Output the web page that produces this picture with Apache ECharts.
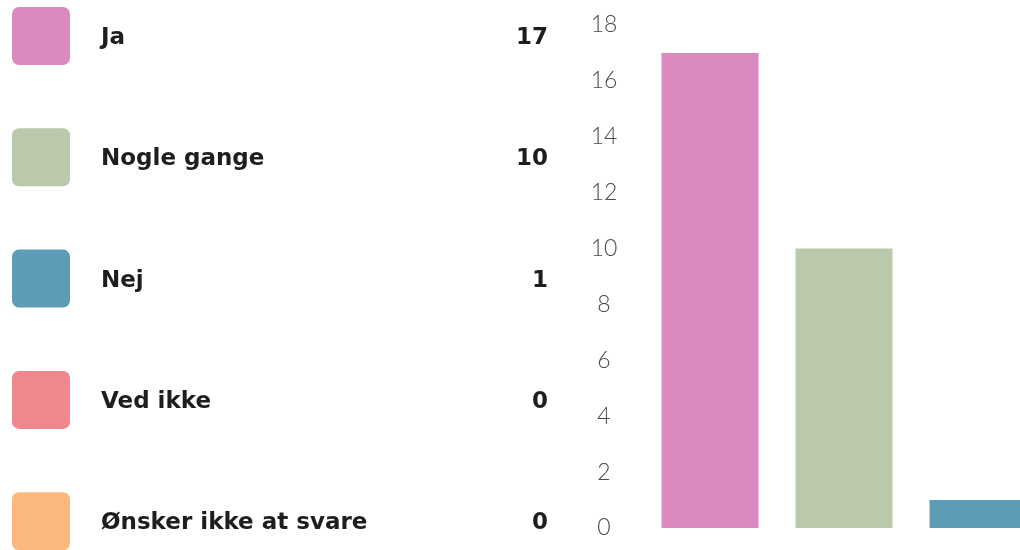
<!DOCTYPE html>
<html>
<head>
<meta charset="utf-8">
<script src="https://cdn.jsdelivr.net/npm/echarts@6/dist/echarts.min.js"></script>
<style>
html,body{margin:0;padding:0;background:#fff;}
#chart{width:1020px;height:550px;}
</style>
</head>
<body>
<div id="chart"></div>
<script>
const categories = ['Ja', 'Nogle gange', 'Nej', 'Ved ikke', 'Ønsker ikke at svare'];
const values = [17, 10, 1, 0, 0];
const colors = ['#DA8ABF', '#BAC8AB', '#5E9CB6', '#F0878F', '#FDB97D'];
const yTicks = [0, 2, 4, 6, 8, 10, 12, 14, 16, 18];

const chart = echarts.init(document.getElementById('chart'), null, {renderer: 'canvas'});

const rowTop = 7, rowStep = 121.3, sq = 58;
const labelFont = 'bold 23px "DejaVu Sans", sans-serif';
const graphics = [];
categories.forEach((c, i) => {
  const y = rowTop + i * rowStep;
  graphics.push({
    type: 'rect', left: 12, top: y,
    shape: {width: sq, height: sq, r: 7},
    style: {fill: colors[i]}
  });
  graphics.push({
    type: 'text', x: 101, y: y + sq / 2 + 2,
    style: {text: c, font: labelFont, fill: '#1e1e1e', align: 'left', verticalAlign: 'middle'}
  });
  graphics.push({
    type: 'text', x: 548, y: y + sq / 2 + 2,
    style: {text: String(values[i]), font: labelFont, fill: '#1e1e1e', align: 'right', verticalAlign: 'middle'}
  });
});

chart.setOption({
  animation: false,
  backgroundColor: '#ffffff',
  grid: {left: 643, width: 670, top: 25, bottom: 22, containLabel: false, outerBoundsMode: 'none'},
  xAxis: {
    type: 'category',
    data: categories,
    axisLine: {show: false},
    axisTick: {show: false},
    axisLabel: {show: false},
    splitLine: {show: false}
  },
  yAxis: {
    type: 'value',
    min: 0, max: 18, interval: 2,
    axisLine: {show: false},
    axisTick: {show: false},
    splitLine: {show: false},
    axisLabel: {
      margin: 39,
      align: 'center',
      fontSize: 23,
      fontWeight: 300,
      fontFamily: 'Lato, "Open Sans", sans-serif',
      color: '#4a4a4a',
      formatter: v => yTicks.includes(v) ? String(v) : ''
    }
  },
  series: [{
    type: 'bar',
    data: values.map((v, i) => ({value: v, itemStyle: {color: colors[i]}})),
    barWidth: 97
  }],
  graphic: graphics
});
</script>
</body>
</html>
